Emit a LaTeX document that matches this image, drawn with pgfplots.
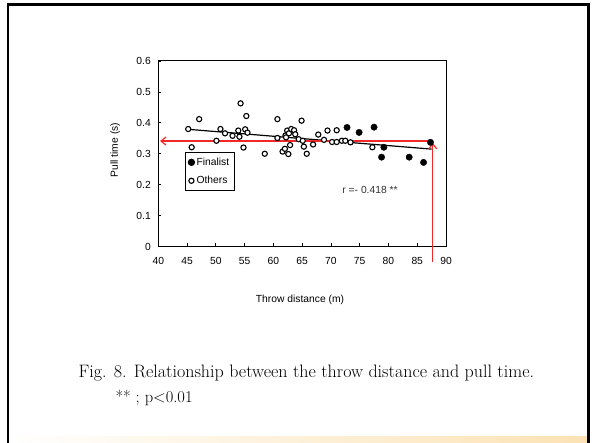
\documentclass[border=0pt]{standalone}
\usepackage{fontspec}
\setsansfont{Liberation Sans}
\usepackage{pgfplots}
\pgfplotsset{compat=1.18}
\usetikzlibrary{arrows.meta}
\definecolor{arrowred}{RGB}{240,40,40}
\definecolor{barorange}{RGB}{252,226,180}

% Finalists
\pgfplotstableread{
x y
72.8 0.385
74.9 0.369
77.5 0.386
79.2 0.321
78.8 0.289
83.6 0.289
86.1 0.272
87.3 0.337
}\finalist

% Other throwers
\pgfplotstableread{
x y
45.2 0.380
45.8 0.321
47.1 0.412
50.1 0.342
50.8 0.380
51.6 0.366
52.9 0.358
53.9 0.375
54.1 0.355
54.3 0.463
54.8 0.320
55.1 0.379
55.3 0.422
55.5 0.368
58.5 0.300
60.7 0.412
60.7 0.351
61.6 0.307
62.0 0.316
62.6 0.299
62.1 0.359
62.4 0.375
62.7 0.366
63.1 0.380
63.6 0.376
63.8 0.363
62.2 0.353
62.9 0.328
64.9 0.407
64.4 0.347
65.1 0.342
65.3 0.323
65.8 0.300
66.9 0.330
67.8 0.362
68.8 0.345
69.4 0.375
70.2 0.338
71.0 0.376
71.0 0.338
71.9 0.342
72.5 0.342
73.4 0.337
77.2 0.321
}\others

\begin{document}
\begin{tikzpicture}
\useasboundingbox (0,0) rectangle (596pt,443pt);
\fill[white] (0,0) rectangle (596pt,443pt);
% slide frame and bottom band
\shade[left color=white, right color=barorange] (9pt,0pt) rectangle (588pt,6pt);
\draw[line width=2.6pt] (8pt,0) -- (8pt,438.5pt) -- (588.5pt,438.5pt) -- (588.5pt,0);

\begin{axis}[
  at={(158.3pt,196.5pt)}, anchor=south west,
  scale only axis, width=287.7pt, height=185.5pt,
  xmin=40, xmax=90, ymin=0, ymax=0.6,
  xtick={40,45,50,55,60,65,70,75,80,85,90},
  ytick={0,0.1,0.2,0.3,0.4,0.5,0.6},
  xtick pos=bottom, ytick pos=left,
  tick align=inside, major tick length=3pt,
  tick style={black, line width=0.8pt},
  axis line style={black, line width=1pt},
  clip=false,
  font=\sffamily\fontsize{10.3}{12}\selectfont,
  /pgf/number format/assume math mode=true,
  /pgf/number format/fixed,
  yticklabel style={xshift=-4pt},
  xticklabel style={yshift=-7.5pt},
  xlabel={Throw distance (m)},
  xlabel style={at={(axis description cs:0.4925,-0.288)}, anchor=center},
  ylabel={Pull time (s)},
  ylabel style={at={(axis description cs:-0.150,0.52)}, anchor=center},
  legend style={at={(axis cs:44.6,0.306)}, anchor=north west, draw=black,
    line width=0.9pt, fill=white, inner xsep=3pt, inner ysep=3.5pt,
    row sep=5.5pt, font=\sffamily\fontsize{10.3}{12}\selectfont},
  legend cell align=left,
  legend image code/.code={\draw[#1] plot coordinates {(0.08cm,0cm)};},
]
% regression line
\addplot[black, line width=1.2pt, forget plot] coordinates {(45.2,0.379) (87.5,0.315)};
\addplot[only marks, mark=*, mark size=3.2pt, black] table {\finalist};
\addlegendentry{Finalist}
\addplot[only marks, mark=*, mark size=2.6pt, line width=1.1pt,
  mark options={draw=black, fill=white}] table {\others};
\addlegendentry{Others}
% reference arrows for the longest throw
\addplot[arrowred, line width=1.2pt, -{Straight Barb[length=5pt,width=8pt]}, forget plot]
  coordinates {(87.5,0.341) (40.3,0.341)};
\addplot[arrowred, line width=1.2pt, -{Straight Barb[length=5pt,width=8pt]}, forget plot]
  coordinates {(87.7,-0.05) (87.7,0.335)};
\node[font=\sffamily\fontsize{10.3}{12}\selectfont, text=black!80] at (axis cs:76.8,0.183) {r =- 0.418 **};
\end{axis}

\node[anchor=base west, font=\fontsize{18}{21}\selectfont] at (75pt,65pt)
  {Fig. 8. Relationship between the throw distance and pull time.};
\node[anchor=base west, font=\fontsize{16.5}{19}\selectfont] at (112pt,40pt)
  {** ; p<0.01};
\end{tikzpicture}
\end{document}
